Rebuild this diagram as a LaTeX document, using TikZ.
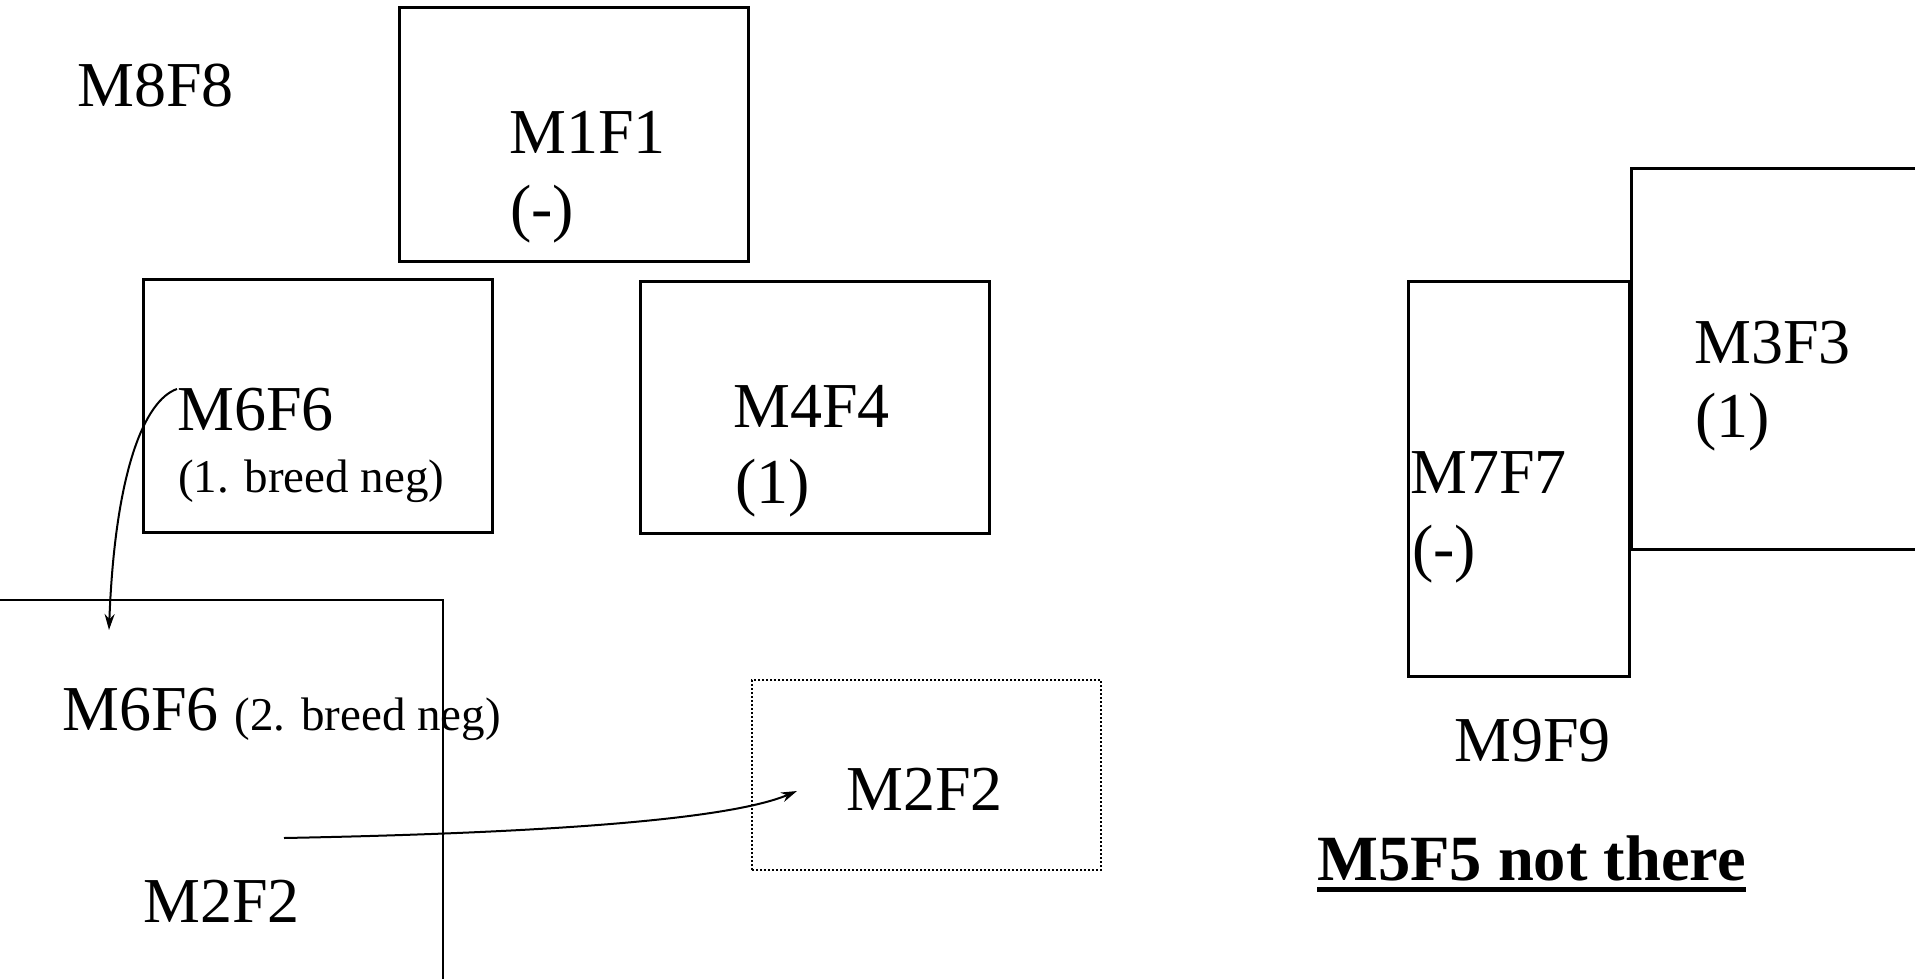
\documentclass[tikz,border=0pt]{standalone}
\usepackage{fontspec}
\setmainfont{Liberation Serif}
\usetikzlibrary{arrows.meta}
\begin{document}
\begin{tikzpicture}[x=1pt,y=-1pt,
  box/.style={draw,line width=2.5pt,inner sep=0pt,anchor=north west},
  dotbox/.style={draw,line width=2pt,dash pattern=on 2pt off 2pt,inner sep=0pt,anchor=north west},
  big/.style={font=\fontsize{64}{78}\selectfont,inner sep=0pt,anchor=base west},
  small/.style={font=\fontsize{47}{58}\selectfont,inner sep=0pt,anchor=base west},
  bold/.style={font=\fontsize{64.5}{78}\selectfont\bfseries,inner sep=0pt,anchor=base west},
  arr/.style={line width=2pt,-{Stealth[length=16pt,width=10pt]}}]
\clip (0,0) rectangle (1915,978);
\fill[white] (0,0) rectangle (1915,978);
% boxes
\node[box,minimum width=349pt,minimum height=254pt] (b1) at (398,6) {};
\node[box,minimum width=349pt,minimum height=253pt] (b6) at (142,278) {};
\node[box,minimum width=349pt,minimum height=252pt] (b4) at (639,280) {};
\node[box,minimum width=221pt,minimum height=395pt] (b7) at (1407,280) {};
\node[box,minimum width=300pt,minimum height=381pt] (b3) at (1630,167) {};
\node[dotbox,minimum width=349pt,minimum height=190pt] (b2) at (751,679) {};
\draw[line width=2.5pt] (-10,600) -- (443,600) -- (443,995);
% texts
\node[big] (t8) at (77,106) {M8F8};
\node[big] (t1) at (509,153) {M1F1};
\node[big] (t1s) at (510,229) {(-)};
\node[big] (t6) at (177,430) {M6F6};
\node[small] (t6s) at (178,492) {(1. breed neg)};
\node[big] (t4) at (733,427) {M4F4};
\node[big] (t4s) at (735,503) {(1)};
\node[big] (t6b) at (62,730) {M6F6 {\fontsize{47}{58}\selectfont(2. breed neg)}};
\node[big] (t2a) at (143,922) {M2F2};
\node[big] (t2b) at (846,810) {M2F2};
\node[big] (t3) at (1694,363) {M3F3};
\node[big] (t3s) at (1695,437) {(1)};
\node[big] (t7) at (1410,493) {M7F7};
\node[big] (t7s) at (1412,569) {(-)};
\node[big] (t9) at (1454,761) {M9F9};
\node[bold] (t5) at (1317,880) {M5F5 not there};
\draw[line width=5pt] ([yshift=-9pt]t5.base west) -- ([yshift=-9pt]t5.base east);
% connectors
\coordinate (a1s) at (177,389);
\coordinate (a1e) at (109,630);
\draw[arr] (a1s) .. controls (145,400) and (115,470) .. (a1e);
\coordinate (a2s) at (284,838);
\coordinate (a2e) at (797,791);
\draw[arr] (a2s) .. controls (600,832) and (740,815) .. (a2e);
\end{tikzpicture}
\end{document}
